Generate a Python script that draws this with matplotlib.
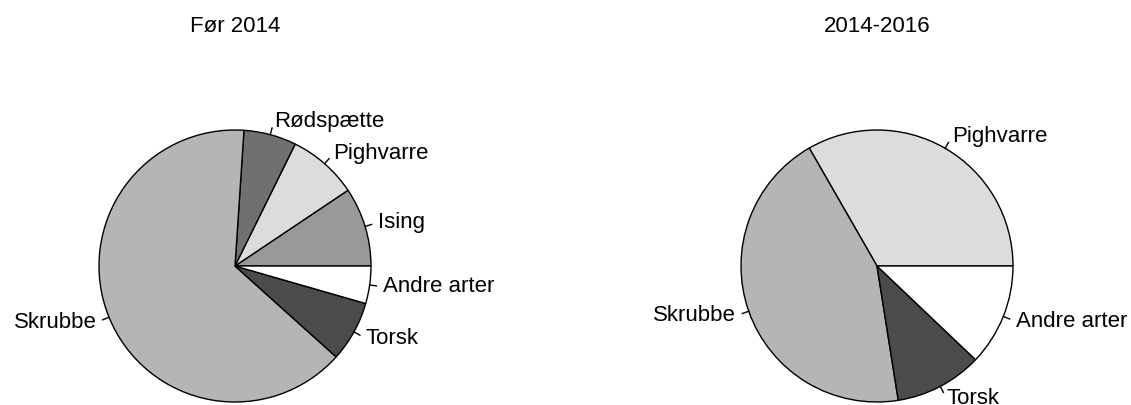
import numpy as np
import matplotlib
matplotlib.use('Agg')
import matplotlib.pyplot as plt

plt.rcParams['font.family'] = ['Liberation Sans', 'DejaVu Sans']

# Data (shares in percent), R pie order, counterclockwise from east
left_title = 'Før 2014'
left_labels = ['Ising', 'Pighvarre', 'Rødspætte', 'Skrubbe', 'Torsk', 'Andre arter']
left_values = [9.4, 8.3, 6.25, 64.4, 7.2, 4.45]
left_colors = ['#999999', '#dcdcdc', '#707070', '#b5b5b5', '#4b4b4b', '#ffffff']

right_title = '2014-2016'
right_labels = ['Pighvarre', 'Skrubbe', 'Torsk', 'Andre arter']
right_values = [33.3, 44.2, 10.4, 12.1]
right_colors = ['#dcdcdc', '#b5b5b5', '#4b4b4b', '#ffffff']

W, H = 1131, 405
fig = plt.figure(figsize=(W / 100, H / 100), dpi=100)
ax = fig.add_axes([0, 0, 1, 1])

R = 136


def draw_pie(cx, cy, values, labels, colors, title):
    wedges, texts = ax.pie(values, labels=labels, colors=colors, startangle=0,
                           counterclock=True, radius=R, center=(cx, cy),
                           labeldistance=1.1, frame=True,
                           wedgeprops=dict(edgecolor='black', linewidth=1.0),
                           textprops=dict(fontsize=16))
    # small tick marks from the rim to the labels, like R's pie()
    for w, t in zip(wedges, texts):
        mid = np.deg2rad((w.theta1 + w.theta2) / 2)
        ax.plot([cx + R * np.cos(mid), cx + 1.05 * R * np.cos(mid)],
                [cy + R * np.sin(mid), cy + 1.05 * R * np.sin(mid)],
                color='black', linewidth=1.0)
        t.set_ha('left' if np.cos(mid) > 0 else 'right')
        t.set_va('center')
    ax.text(cx, H - 27, title, ha='center', va='center', fontsize=16)


draw_pie(235, H - 266, left_values, left_labels, left_colors, left_title)
draw_pie(877, H - 266, right_values, right_labels, right_colors, right_title)

ax.set_xlim(0, W)
ax.set_ylim(0, H)
ax.set_aspect('equal')
ax.axis('off')

fig.savefig('out.png', dpi=100)
